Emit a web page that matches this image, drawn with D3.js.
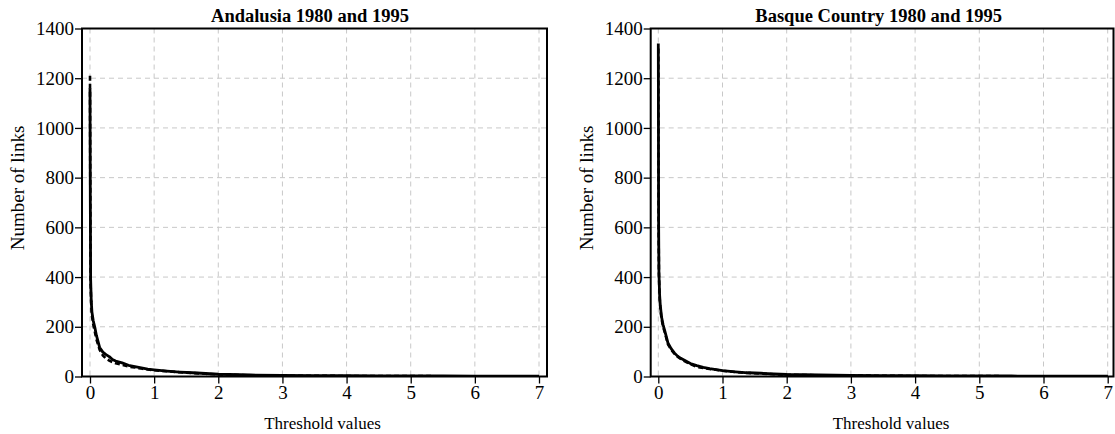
<!DOCTYPE html>
<html>
<head>
<meta charset="utf-8">
<script src="https://cdn.jsdelivr.net/npm/d3@7"></script>
<style>
  body { margin: 0; background: #fff; }
  svg text { font-family: "Liberation Serif", "DejaVu Serif", serif; fill: #000; }
</style>
</head>
<body>
<script>
const thresholds = [0, 0.005, 0.01, 0.02, 0.03, 0.05, 0.075, 0.1, 0.15, 0.2,
                    0.25, 0.3, 0.35, 0.4, 0.5, 0.6, 0.7, 0.8, 0.9, 1,
                    1.2, 1.4, 1.6, 1.8, 2, 2.5, 3, 3.5, 4, 4.5,
                    5, 5.5, 6, 6.5, 7];

const andalusia1980 = [1160, 700, 390, 300, 260, 225, 198, 165, 117, 98,
                       88, 80, 68, 62, 55, 45, 40, 35, 30, 27,
                       22, 18, 15, 12, 9, 6, 4, 3, 3, 2,
                       2, 2, 1, 1, 1];
const andalusia1995 = [1210, 680, 370, 285, 245, 210, 180, 150, 108, 85,
                       72, 64, 58, 53, 47, 40, 36, 32, 28, 25,
                       21, 17, 14, 11, 8, 5, 3, 3, 2, 2,
                       2, 1, 1, 1, 1];
const basque1980 = [1340, 620, 420, 330, 290, 240, 208, 185, 135, 112,
                    95, 82, 73, 66, 52, 44, 37, 32, 28, 24,
                    19, 15, 13, 10, 8, 6, 4, 3, 3, 2,
                    2, 2, 1, 1, 1];
const basque1995 = [1320, 600, 410, 320, 280, 232, 200, 178, 130, 108,
                    92, 80, 71, 63, 50, 38, 34, 30, 27, 23,
                    18, 14, 12, 9, 7, 5, 4, 3, 2, 2,
                    2, 1, 1, 1, 1];

const xTicks = [0, 1, 2, 3, 4, 5, 6, 7];
const yTicks = [0, 200, 400, 600, 800, 1000, 1200, 1400];
const titles = ['Andalusia 1980 and 1995', 'Basque Country 1980 and 1995'];

const width = 1115, height = 434;
const serif = '"Liberation Serif", "DejaVu Serif", serif';

const svg = d3.select('body')
  .append('svg')
  .attr('width', width)
  .attr('height', height);

// frame left/right and where 0 and 7 land, per panel
const panels = [
  { title: titles[0], frame: [82, 547], range: [90, 539], series: [andalusia1995, andalusia1980] },
  { title: titles[1], frame: [650.7, 1113.5], range: [658.3, 1107.7], series: [basque1995, basque1980] }
];

const plotTop = 28.5, plotBottom = 376.5;

const renderPanel = (p, i) => {
  const x = d3.scaleLinear().domain([0, 7]).range(p.range);
  const y = d3.scaleLinear().domain([0, 1400]).range([plotBottom, plotTop]);

  const g = svg.append('g');
  const clipId = 'clip' + i;

  g.append('clipPath').attr('id', clipId)
    .append('rect')
    .attr('x', p.frame[0]).attr('y', plotTop)
    .attr('width', p.frame[1] - p.frame[0]).attr('height', plotBottom - plotTop);

  // grid
  g.selectAll('.vgrid').data(xTicks).enter()
    .append('line')
    .attr('x1', (d) => x(d)).attr('x2', (d) => x(d))
    .attr('y1', plotTop).attr('y2', plotBottom)
    .attr('stroke', '#c8c8c8').attr('stroke-dasharray', '5,4');

  g.selectAll('.hgrid').data(yTicks).enter()
    .append('line')
    .attr('x1', p.frame[0]).attr('x2', p.frame[1])
    .attr('y1', (d) => y(d)).attr('y2', (d) => y(d))
    .attr('stroke', '#c8c8c8').attr('stroke-dasharray', '5,4');

  // curves
  const line = d3.line()
    .x((d, j) => x(thresholds[j]))
    .y((d) => y(d));

  const curves = g.append('g').attr('clip-path', `url(#${clipId})`);

  curves.append('path')
    .datum(p.series[0])
    .attr('d', line)
    .attr('fill', 'none')
    .attr('stroke', '#000')
    .attr('stroke-width', 2.6)
    .attr('stroke-dasharray', '5,3');

  curves.append('path')
    .datum(p.series[1])
    .attr('d', line)
    .attr('fill', 'none')
    .attr('stroke', '#000')
    .attr('stroke-width', 2.8)
    .attr('stroke-linejoin', 'round');

  // frame
  g.append('rect')
    .attr('x', p.frame[0]).attr('y', plotTop)
    .attr('width', p.frame[1] - p.frame[0]).attr('height', plotBottom - plotTop)
    .attr('fill', 'none').attr('stroke', '#000').attr('stroke-width', 2);

  // axes
  const yAxis = g.append('g')
    .attr('transform', `translate(${p.frame[0]},0)`)
    .attr('font-family', serif)
    .call(d3.axisLeft(y).tickValues(yTicks).tickFormat(d3.format('d'))
      .tickSize(7).tickPadding(1));
  yAxis.select('.domain').remove();
  yAxis.selectAll('.tick line').attr('stroke-width', 1.3);
  yAxis.selectAll('.tick text')
    .style('font-family', serif)
    .style('font-size', '19px');

  const xAxis = g.append('g')
    .attr('transform', `translate(0,${plotBottom})`)
    .attr('font-family', serif)
    .call(d3.axisBottom(x).tickValues(xTicks).tickFormat(d3.format('d'))
      .tickSize(7).tickPadding(2));
  xAxis.select('.domain').remove();
  xAxis.selectAll('.tick line').attr('stroke-width', 1.3);
  xAxis.selectAll('.tick text')
    .style('font-family', serif)
    .style('font-size', '19px');

  // labels
  g.append('text')
    .attr('x', p.frame[0] + 228)
    .attr('y', 22)
    .attr('text-anchor', 'middle')
    .style('font-family', serif)
    .style('font-size', '18.5px')
    .style('font-weight', 'bold')
    .text(p.title);

  g.append('text')
    .attr('x', x(3.5) + 8)
    .attr('y', 429)
    .attr('text-anchor', 'middle')
    .style('font-family', serif)
    .style('font-size', '17px')
    .text('Threshold values');

  g.append('text')
    .attr('transform', `translate(${p.frame[0] - 58},188) rotate(-90)`)
    .attr('text-anchor', 'middle')
    .style('font-family', serif)
    .style('font-size', '19px')
    .text('Number of links');
};

panels.forEach(renderPanel);
</script>
</body>
</html>
